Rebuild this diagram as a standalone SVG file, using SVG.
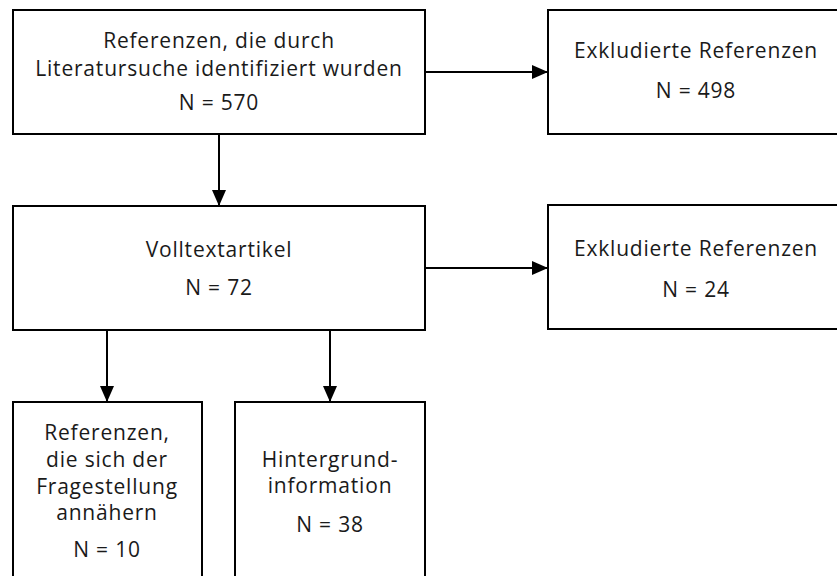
<svg xmlns="http://www.w3.org/2000/svg" width="837" height="576" viewBox="0 0 837 576">
<defs>
<style>
.box{fill:#fff;stroke:#000;stroke-width:2}
.t{font-family:"Open Sans","Noto Sans","Liberation Sans",sans-serif;font-size:21px;letter-spacing:0.8px;fill:#1a1a1a;text-anchor:middle}
.c{stroke:#000;stroke-width:2;fill:none}
</style>
<marker id="ah" viewBox="0 0 16 14" refX="16" refY="7" markerWidth="16" markerHeight="14" markerUnits="userSpaceOnUse" orient="auto">
<path d="M0,0 L16,7 L0,14 Z" fill="#000"/>
</marker>
</defs>
<rect width="837" height="576" fill="#fff"/>
<g id="connectors">
<line class="c" x1="425" y1="72" x2="548" y2="72" marker-end="url(#ah)"/>
<line class="c" x1="219" y1="134" x2="219" y2="206" marker-end="url(#ah)"/>
<line class="c" x1="425" y1="268" x2="548" y2="268" marker-end="url(#ah)"/>
<line class="c" x1="107" y1="330" x2="107" y2="402" marker-end="url(#ah)"/>
<line class="c" x1="330" y1="330" x2="330" y2="402" marker-end="url(#ah)"/>
</g>
<g id="n1">
<rect class="box" x="13" y="10" width="412" height="124"/>
<text class="t" x="219" y="48">Referenzen, die durch</text>
<text class="t" x="219" y="76">Literatursuche identifiziert wurden</text>
<text class="t" x="219" y="110">N = 570</text>
</g>
<g id="n2">
<rect class="box" x="548" y="10" width="300" height="124"/>
<text class="t" x="696" y="58">Exkludierte Referenzen</text>
<text class="t" x="696" y="98">N = 498</text>
</g>
<g id="n3">
<rect class="box" x="13" y="206" width="412" height="124"/>
<text class="t" x="219" y="257">Volltextartikel</text>
<text class="t" x="219" y="295">N = 72</text>
</g>
<g id="n4">
<rect class="box" x="548" y="205" width="300" height="124"/>
<text class="t" x="696" y="256">Exkludierte Referenzen</text>
<text class="t" x="696" y="297">N = 24</text>
</g>
<g id="n5">
<rect class="box" x="13" y="402" width="189" height="200"/>
<text class="t" x="107" y="440">Referenzen,</text>
<text class="t" x="107" y="467">die sich der</text>
<text class="t" x="107" y="494">Fragestellung</text>
<text class="t" x="107" y="520">annähern</text>
<text class="t" x="107" y="557">N = 10</text>
</g>
<g id="n6">
<rect class="box" x="235" y="402" width="190" height="200"/>
<text class="t" x="330" y="467">Hintergrund-</text>
<text class="t" x="330" y="493">information</text>
<text class="t" x="330" y="532">N = 38</text>
</g>
</svg>
